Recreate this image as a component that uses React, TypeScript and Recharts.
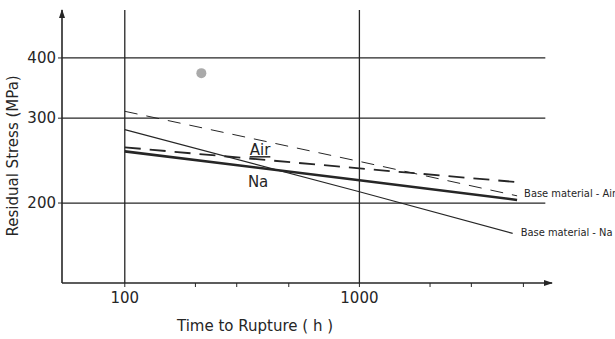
import { LineChart, Line, XAxis, YAxis, ReferenceLine, ReferenceDot } from 'recharts'

// (log-log plot)
const naTime = [100, 1000, 4700]
const naStress = [256, 223, 203]
const airTime = [100, 1000, 4700]
const airStress = [261, 236, 221]
const baseAirTime = [100, 1000, 4700]
const baseAirStress = [310, 244, 207]
const baseNaTime = [100, 1000, 4500]
const baseNaStress = [284, 211, 173]

const xTicks = [100, 200, 300, 400, 500, 1000, 2000, 3000, 4000, 5000]
const xLabelled = [100, 1000]
const yTicks = [200, 300, 400]

const X_MIN = 54, X_MAX = 6620, Y_MIN = 136.5, Y_MAX = 503

const ink = '#262626'
const font = '"DejaVu Sans", sans-serif'
const narrow = '"Liberation Sans Narrow", "DejaVu Sans Condensed", sans-serif'

const toRows = (t: number[], s: number[]) => t.map((time, i) => ({ time, stress: s[i] }))
const na = toRows(naTime, naStress)
const air = toRows(airTime, airStress)
const baseAir = toRows(baseAirTime, baseAirStress)
const baseNa = toRows(baseNaTime, baseNaStress)

const endLabel = (text: string, n: number, dx: number, dy: number) => (p: any) =>
  p.index === n - 1
    ? <text x={p.x + dx} y={p.y + dy} fontSize={11} fontFamily={narrow} fill={ink}>{text}</text>
    : <g />

const XTick = (p: any) => {
  const v = p.payload.value
  return (
    <g>
      <line x1={p.x} x2={p.x} y1={283} y2={287} stroke={ink} strokeWidth={1} />
      {xLabelled.includes(v) && (
        <text x={p.x} y={303} textAnchor="middle" fontSize={15} fontFamily={font} fill={ink}>{v}</text>
      )}
    </g>
  )
}

export default function App() {
  return (
    <div style={{ background: '#fff' }}>
      <style>{`body{margin:0}`}</style>
      <LineChart width={615} height={339} margin={{ top: 10, right: 63, bottom: 0, left: 0 }}>
        <XAxis dataKey="time" type="number" scale="log" domain={[X_MIN, X_MAX]} allowDataOverflow
          ticks={xTicks} tick={<XTick />} tickLine={false} height={56}
          axisLine={{ stroke: ink, strokeWidth: 1.6 }}
          label={{ value: 'Time to Rupture ( h )', position: 'insideBottomLeft', dx: 110, dy: -3, fontSize: 15, fontFamily: font, fill: ink }} />
        <YAxis dataKey="stress" type="number" scale="log" domain={[Y_MIN, Y_MAX]} allowDataOverflow
          ticks={yTicks} width={62} tickSize={4} tickMargin={2}
          tick={{ fontSize: 15, fontFamily: font, fill: ink }}
          tickLine={{ stroke: ink }} axisLine={{ stroke: ink, strokeWidth: 1.6 }}
          label={{ value: 'Residual Stress (MPa)', angle: -90, position: 'insideLeft', dx: 8, dy: 90, fontSize: 15, fontFamily: font, fill: ink }} />

        {yTicks.map(v => (
          <ReferenceLine key={v} segment={[{ x: X_MIN, y: v }, { x: 6200, y: v }]} stroke={ink} strokeWidth={1.3} ifOverflow="visible" />
        ))}
        {xLabelled.map(v => (
          <ReferenceLine key={v} x={v} stroke={ink} strokeWidth={1.3} />
        ))}

        <Line data={baseAir} dataKey="stress" stroke={ink} strokeWidth={1} strokeDasharray="13 9" dot={false} isAnimationActive={false}
          label={endLabel('Base material - Air', baseAir.length, 7, 1)} />
        <Line data={air} dataKey="stress" stroke={ink} strokeWidth={1.8} strokeDasharray="16 9" dot={false} isAnimationActive={false} />
        <Line data={na} dataKey="stress" stroke={ink} strokeWidth={2.6} dot={false} isAnimationActive={false} />
        <Line data={baseNa} dataKey="stress" stroke={ink} strokeWidth={1.1} dot={false} isAnimationActive={false}
          label={endLabel('Base material - Na', baseNa.length, 8, 3)} />

        <ReferenceDot x={377} y={258} r={0} ifOverflow="visible"
          label={{ value: 'Air', fontSize: 15, fontFamily: font, fill: ink, textDecoration: 'underline' } as any} />
        <ReferenceDot x={370} y={222} r={0} ifOverflow="visible"
          label={{ value: 'Na', fontSize: 15, fontFamily: font, fill: ink }} />
        <ReferenceDot x={212} y={372} r={5} fill="#aaa" stroke="none" ifOverflow="visible" />

        <ReferenceDot x={X_MAX} y={Y_MIN} r={0} ifOverflow="visible"
          shape={(p: any) => <path d={`M${p.cx - 8},${p.cy - 3}L${p.cx + 1},${p.cy}L${p.cx - 8},${p.cy + 3}Z`} fill={ink} />} />
        <ReferenceDot x={X_MIN} y={Y_MAX} r={0} ifOverflow="visible"
          shape={(p: any) => <path d={`M${p.cx - 3},${p.cy + 8}L${p.cx},${p.cy - 1}L${p.cx + 3},${p.cy + 8}Z`} fill={ink} />} />
      </LineChart>
    </div>
  )
}
